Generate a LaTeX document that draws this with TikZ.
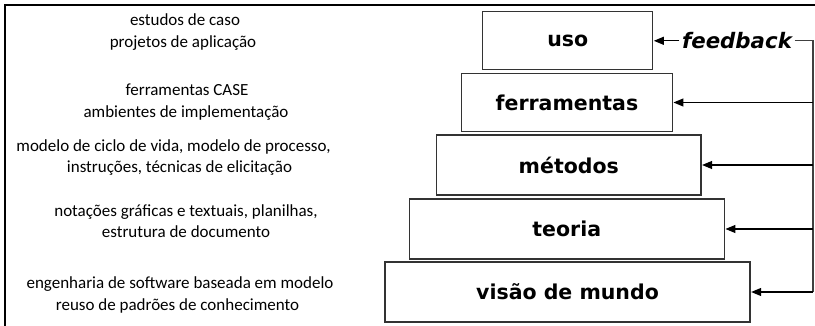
\documentclass[tikz,border=0pt]{standalone}
\usepackage{fontspec}
\newfontfamily\boxfont{DejaVu Sans}
\newfontfamily\leftfont{Carlito}
\usetikzlibrary{arrows.meta}
\begin{document}
\begin{tikzpicture}[x=1pt,y=1pt,
  layer/.style={draw=black!80, line width=1.3pt, inner sep=0pt,
    font=\boxfont\bfseries\fontsize{20.5}{24}\selectfont},
  note/.style={anchor=base, inner sep=0pt, text=black, font=\leftfont\fontsize{17}{21}\selectfont},
  arr/.style={-{Triangle[length=10pt,width=8pt]}, line width=1.2pt, draw=black, shorten >=0.5pt},
  link/.style={line width=1.2pt, draw=black!75},
  frame/.style={line width=2pt, draw=black}]
\useasboundingbox (0,-326) rectangle (815,0);
\draw[frame] (815,-5) -- (5,-5) -- (5,-326);
% layers
\node[layer, minimum width=170pt, minimum height=58pt] (uso) at (567.7,-40.8) {uso};
\node[layer, minimum width=210.6pt, minimum height=58pt] (ferr) at (567,-102.5) {ferramentas};
\node[layer, minimum width=264.3pt, minimum height=60pt] (met) at (568.8,-165) {métodos};
\node[layer, minimum width=315pt, minimum height=60pt] (teo) at (566.8,-229) {teoria};
\node[layer, minimum width=365pt, minimum height=60pt] (vis) at (567.5,-292) {visão de mundo};
% feedback
\node[inner sep=2.5pt, font=\boxfont\bfseries\itshape\fontsize{21.3}{24}\selectfont] (fb) at (737,-40.8) {feedback};
\coordinate (top) at (813,-40.8);
\coordinate (bot) at (813,-292);
\draw[arr] (fb.west) -- (uso.east);
\draw[link] (fb.east) -- (top) -- (bot);
\draw[arr] (top |- ferr.east) -- (ferr.east);
\draw[arr] (top |- met.east) -- (met.east);
\draw[arr] (top |- teo.east) -- (teo.east);
\draw[arr] (bot) -- (vis.east);
% notes
\node[note] (n1a) at (185,-26) {estudos de caso};
\node[note] (n1b) at (183,-48) {projetos de aplicação};
\node[note] (n2a) at (187,-96) {ferramentas CASE};
\node[note] (n2b) at (186,-118) {ambientes de implementação};
\node[note] (n3a) at (173.5,-152) {modelo de ciclo de vida, modelo de processo,};
\node[note] (n3b) at (179.5,-173) {instruções, técnicas de elicitação};
\node[note] (n4a) at (186,-217) {notações gráficas e textuais, planilhas,};
\node[note] (n4b) at (186,-238) {estrutura de documento};
\node[note] (n5a) at (180,-288) {engenharia de software baseada em modelo};
\node[note] (n5b) at (177.5,-310) {reuso de padrões de conhecimento};
\end{tikzpicture}
\end{document}
